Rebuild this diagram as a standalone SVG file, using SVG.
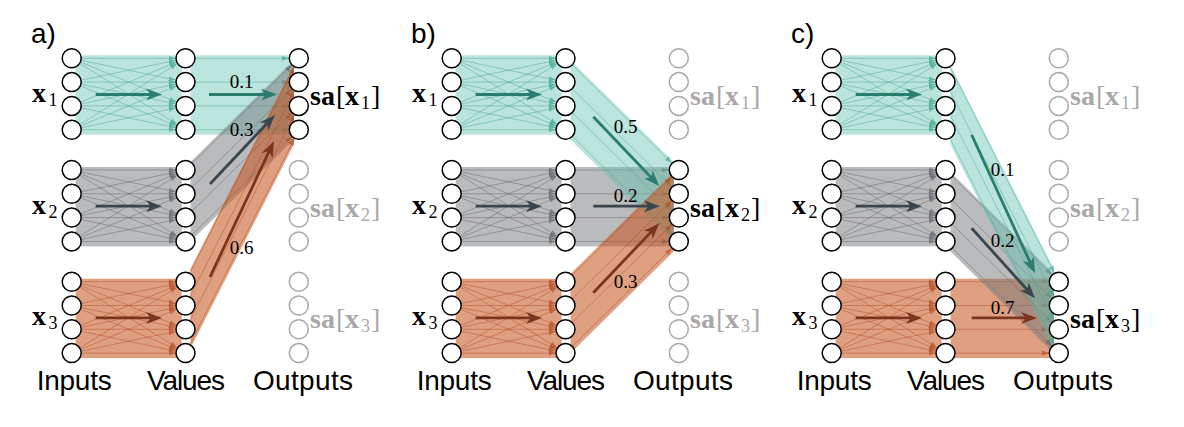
<svg xmlns="http://www.w3.org/2000/svg" width="1184" height="427" viewBox="0 0 1184 427">
<style>
.bt{fill:#62c1ae;fill-opacity:.43}
.bg{fill:#75777c;fill-opacity:.5}
.bo{fill:#c4521c;fill-opacity:.55}
.lt{stroke:#3fa58f;stroke-opacity:.5;stroke-width:.9;fill:none;marker-end:url(#mt)}
.lg{stroke:#5d6268;stroke-opacity:.5;stroke-width:.9;fill:none;marker-end:url(#mg)}
.lo{stroke:#b24a22;stroke-opacity:.5;stroke-width:.9;fill:none;marker-end:url(#mo)}
.at{stroke:#2a7d6f;stroke-width:2.8;fill:none;marker-end:url(#At)}
.ag{stroke:#3a464e;stroke-width:2.8;fill:none;marker-end:url(#Ag)}
.ao{stroke:#7a3420;stroke-width:2.8;fill:none;marker-end:url(#Ao)}
.node{fill:#fff;stroke:#000;stroke-width:1.5}
.off{fill:#fff;stroke:#a8a8a8;stroke-width:1.5}
.pl{font-family:"Liberation Sans",Arial,sans-serif;font-size:28px;fill:#000}
.ax{font-family:"Liberation Sans",Arial,sans-serif;font-size:28px;text-anchor:middle;fill:#000}
.w{font-family:"Liberation Serif","Times New Roman",serif;font-size:19px;text-anchor:middle;fill:#000}
.m{font-family:"Liberation Serif","Times New Roman",serif;font-size:28px;fill:#000}
.m.g{fill:#a8a8a8}
.b{font-weight:bold}
.sub{font-size:18px}
</style>
<defs>
<marker id="mt" markerUnits="userSpaceOnUse" markerWidth="8" markerHeight="7" refX="7" refY="3.5" orient="auto" viewBox="0 0 8 7"><path d="M0,0.8 L7,3.5 L0,6.2 Z" fill="#3fa58f" fill-opacity=".6"/></marker>
<marker id="mg" markerUnits="userSpaceOnUse" markerWidth="8" markerHeight="7" refX="7" refY="3.5" orient="auto" viewBox="0 0 8 7"><path d="M0,0.8 L7,3.5 L0,6.2 Z" fill="#5d6268" fill-opacity=".6"/></marker>
<marker id="mo" markerUnits="userSpaceOnUse" markerWidth="8" markerHeight="7" refX="7" refY="3.5" orient="auto" viewBox="0 0 8 7"><path d="M0,0.8 L7,3.5 L0,6.2 Z" fill="#b24a22" fill-opacity=".6"/></marker>
<marker id="At" markerUnits="userSpaceOnUse" markerWidth="17" markerHeight="13" refX="8" refY="6.5" orient="auto" viewBox="0 0 17 13"><path d="M0,0.5 L16,6.5 L0,12.5 L4.5,6.5 Z" fill="#2a7d6f"/></marker>
<marker id="Ag" markerUnits="userSpaceOnUse" markerWidth="17" markerHeight="13" refX="8" refY="6.5" orient="auto" viewBox="0 0 17 13"><path d="M0,0.5 L16,6.5 L0,12.5 L4.5,6.5 Z" fill="#3a464e"/></marker>
<marker id="Ao" markerUnits="userSpaceOnUse" markerWidth="17" markerHeight="13" refX="8" refY="6.5" orient="auto" viewBox="0 0 17 13"><path d="M0,0.5 L16,6.5 L0,12.5 L4.5,6.5 Z" fill="#7a3420"/></marker>
<g id="mesh">
<line x1="9.5" y1="0" x2="103.8" y2="0"/>
<line x1="9.3" y1="1.94" x2="104.01" y2="21.75"/>
<line x1="8.76" y1="3.67" x2="104.57" y2="43.74"/>
<line x1="8.05" y1="5.05" x2="105.33" y2="66.08"/>
<line x1="9.3" y1="21.86" x2="104.01" y2="2.05"/>
<line x1="9.5" y1="23.8" x2="103.8" y2="23.8"/>
<line x1="9.3" y1="25.74" x2="104.01" y2="45.55"/>
<line x1="8.76" y1="27.47" x2="104.57" y2="67.54"/>
<line x1="8.76" y1="43.93" x2="104.57" y2="3.86"/>
<line x1="9.3" y1="45.66" x2="104.01" y2="25.85"/>
<line x1="9.5" y1="47.6" x2="103.8" y2="47.6"/>
<line x1="9.3" y1="49.54" x2="104.01" y2="69.35"/>
<line x1="8.05" y1="66.35" x2="105.33" y2="5.32"/>
<line x1="8.76" y1="67.73" x2="104.57" y2="27.66"/>
<line x1="9.3" y1="69.46" x2="104.01" y2="49.65"/>
<line x1="9.5" y1="71.4" x2="103.8" y2="71.4"/>
</g>
<g id="col"><circle cx="0" cy="0" r="9.5"/><circle cx="0" cy="23.8" r="9.5"/><circle cx="0" cy="47.6" r="9.5"/><circle cx="0" cy="71.4" r="9.5"/></g>
<g id="inbands">
<rect class="bt" x="75.7" y="55.3" width="106" height="79.4"/>
<use href="#mesh" class="lt" x="71.7" y="58.3"/>
<rect class="bg" x="75.7" y="167" width="106" height="79.4"/>
<use href="#mesh" class="lg" x="71.7" y="170"/>
<rect class="bo" x="75.7" y="278.7" width="106" height="79.4"/>
<use href="#mesh" class="lo" x="71.7" y="281.7"/>
</g>
<g id="inarrows">
<line class="at" x1="95.7" y1="94.5" x2="154" y2="94.5"/>
<line class="ag" x1="95.7" y1="206.2" x2="154" y2="206.2"/>
<line class="ao" x1="95.7" y1="317.9" x2="154" y2="317.9"/>
</g>
<g id="inlabels">
<text class="m"><tspan class="b" x="32" y="102">x</tspan><tspan class="sub" x="48.5" y="106">1</tspan></text>
<text class="m"><tspan class="b" x="32" y="213.7">x</tspan><tspan class="sub" x="48.5" y="217.7">2</tspan></text>
<text class="m"><tspan class="b" x="32" y="325.4">x</tspan><tspan class="sub" x="48.5" y="329.4">3</tspan></text>
</g>
<g id="axlabels">
<text class="ax" x="74.2" y="390" textLength="75">Inputs</text>
<text class="ax" x="186" y="390" textLength="78">Values</text>
<text class="ax" x="303" y="390" textLength="100">Outputs</text>
</g>
</defs>

<!-- Panel a -->
<g id="panel-a">
<g id="a-connectors">
<use href="#inbands"/>
<rect class="bt" x="190.5" y="55.3" width="103.3" height="79.4"/>
<g class="lt"><line x1="195" y1="58.3" x2="288.8" y2="58.3"/><line x1="195" y1="82.1" x2="288.8" y2="82.1"/><line x1="195" y1="105.9" x2="288.8" y2="105.9"/><line x1="195" y1="129.7" x2="288.8" y2="129.7"/></g>
<polygon class="bg" points="190.5,162.07 293.8,60.23 293.8,139.63 190.5,241.47"/>
<g class="lg"><line x1="192.27" y1="163.33" x2="291.68" y2="65.32"/><line x1="192.27" y1="187.13" x2="291.68" y2="89.12"/><line x1="192.27" y1="210.93" x2="291.68" y2="112.92"/><line x1="192.27" y1="234.73" x2="291.68" y2="136.72"/></g>
<polygon class="bo" points="190.5,268.85 293.8,65.15 293.8,144.55 190.5,348.25"/>
<g class="lo"><line x1="189.8" y1="273.23" x2="294.28" y2="67.22"/><line x1="189.8" y1="297.03" x2="294.28" y2="91.02"/><line x1="189.8" y1="320.83" x2="294.28" y2="114.82"/><line x1="189.8" y1="344.63" x2="294.28" y2="138.62"/></g>
<use href="#inarrows"/>
<line class="at" x1="209" y1="94.5" x2="269" y2="94.5"/>
<line class="ag" x1="210" y1="184" x2="269.5" y2="120.8"/>
<line class="ao" x1="210" y1="277" x2="270.6" y2="148.2"/>
</g>
<g id="a-nodes">
<g id="a-in-x1" class="node"><use href="#col" x="71.7" y="58.3"/></g>
<g id="a-in-x2" class="node"><use href="#col" x="71.7" y="170"/></g>
<g id="a-in-x3" class="node"><use href="#col" x="71.7" y="281.7"/></g>
<g id="a-val-1" class="node"><use href="#col" x="185.5" y="58.3"/></g>
<g id="a-val-2" class="node"><use href="#col" x="185.5" y="170"/></g>
<g id="a-val-3" class="node"><use href="#col" x="185.5" y="281.7"/></g>
<g id="a-out-1" class="node"><use href="#col" x="298.8" y="58.3"/></g>
<g id="a-out-2" class="off"><use href="#col" x="298.8" y="170"/></g>
<g id="a-out-3" class="off"><use href="#col" x="298.8" y="281.7"/></g>
</g>
<g id="a-labels">
<text class="pl" x="31" y="43">a)</text>
<text class="w" x="241.7" y="88">0.1</text>
<text class="w" x="241.7" y="136">0.3</text>
<text class="w" x="241.7" y="254">0.6</text>
<use href="#inlabels"/>
<text class="m"><tspan class="b" x="310" y="105">sa</tspan><tspan x="336">[</tspan><tspan class="b" x="345">x</tspan><tspan class="sub" x="361" y="109">1</tspan><tspan x="371" y="105">]</tspan></text>
<text class="m g"><tspan class="b" x="310" y="216.7">sa</tspan><tspan x="336">[</tspan><tspan class="b" x="345">x</tspan><tspan class="sub" x="361" y="220.7">2</tspan><tspan x="371" y="216.7">]</tspan></text>
<text class="m g"><tspan class="b" x="310" y="328.4">sa</tspan><tspan x="336">[</tspan><tspan class="b" x="345">x</tspan><tspan class="sub" x="361" y="332.4">3</tspan><tspan x="371" y="328.4">]</tspan></text>
<use href="#axlabels"/>
</g>
</g>

<!-- Panel b -->
<g id="panel-b" transform="translate(380,0)">
<g id="b-connectors">
<use href="#inbands"/>
<rect class="bg" x="190.5" y="167" width="103.3" height="79.4"/>
<g class="lg"><line x1="195" y1="170" x2="288.8" y2="170"/><line x1="195" y1="193.8" x2="288.8" y2="193.8"/><line x1="195" y1="217.6" x2="288.8" y2="217.6"/><line x1="195" y1="241.4" x2="288.8" y2="241.4"/></g>
<polygon class="bt" points="190.5,60.23 293.8,162.07 293.8,241.47 190.5,139.63"/>
<g class="lt"><line x1="192.27" y1="64.97" x2="291.68" y2="162.98"/><line x1="192.27" y1="88.77" x2="291.68" y2="186.78"/><line x1="192.27" y1="112.57" x2="291.68" y2="210.58"/><line x1="192.27" y1="136.37" x2="291.68" y2="234.38"/></g>
<polygon class="bo" points="190.5,273.77 293.8,171.93 293.8,251.33 190.5,353.17"/>
<g class="lo"><line x1="192.27" y1="275.03" x2="291.68" y2="177.02"/><line x1="192.27" y1="298.83" x2="291.68" y2="200.82"/><line x1="192.27" y1="322.63" x2="291.68" y2="224.62"/><line x1="192.27" y1="346.43" x2="291.68" y2="248.42"/></g>
<use href="#inarrows"/>
<line class="at" x1="213.3" y1="116.7" x2="273.8" y2="180.2"/>
<line class="ag" x1="213.3" y1="206.2" x2="272" y2="206.2"/>
<line class="ao" x1="213.3" y1="292.7" x2="273.8" y2="229.1"/>
</g>
<g id="b-nodes">
<g id="b-in-x1" class="node"><use href="#col" x="71.7" y="58.3"/></g>
<g id="b-in-x2" class="node"><use href="#col" x="71.7" y="170"/></g>
<g id="b-in-x3" class="node"><use href="#col" x="71.7" y="281.7"/></g>
<g id="b-val-1" class="node"><use href="#col" x="185.5" y="58.3"/></g>
<g id="b-val-2" class="node"><use href="#col" x="185.5" y="170"/></g>
<g id="b-val-3" class="node"><use href="#col" x="185.5" y="281.7"/></g>
<g id="b-out-1" class="off"><use href="#col" x="298.8" y="58.3"/></g>
<g id="b-out-2" class="node"><use href="#col" x="298.8" y="170"/></g>
<g id="b-out-3" class="off"><use href="#col" x="298.8" y="281.7"/></g>
</g>
<g id="b-labels">
<text class="pl" x="31" y="43">b)</text>
<text class="w" x="245.7" y="132.7">0.5</text>
<text class="w" x="245.7" y="201.7">0.2</text>
<text class="w" x="245.7" y="288">0.3</text>
<use href="#inlabels"/>
<text class="m g"><tspan class="b" x="310" y="105">sa</tspan><tspan x="336">[</tspan><tspan class="b" x="345">x</tspan><tspan class="sub" x="361" y="109">1</tspan><tspan x="371" y="105">]</tspan></text>
<text class="m"><tspan class="b" x="310" y="216.7">sa</tspan><tspan x="336">[</tspan><tspan class="b" x="345">x</tspan><tspan class="sub" x="361" y="220.7">2</tspan><tspan x="371" y="216.7">]</tspan></text>
<text class="m g"><tspan class="b" x="310" y="328.4">sa</tspan><tspan x="336">[</tspan><tspan class="b" x="345">x</tspan><tspan class="sub" x="361" y="332.4">3</tspan><tspan x="371" y="328.4">]</tspan></text>
<use href="#axlabels"/>
</g>
</g>

<!-- Panel c -->
<g id="panel-c" transform="translate(760,0)">
<g id="c-connectors">
<use href="#inbands"/>
<rect class="bo" x="190.5" y="278.7" width="103.3" height="79.4"/>
<g class="lo"><line x1="195" y1="281.7" x2="288.8" y2="281.7"/><line x1="195" y1="305.5" x2="288.8" y2="305.5"/><line x1="195" y1="329.3" x2="288.8" y2="329.3"/><line x1="195" y1="353.1" x2="288.8" y2="353.1"/></g>
<polygon class="bg" points="190.5,171.93 293.8,273.77 293.8,353.17 190.5,251.33"/>
<g class="lg"><line x1="192.27" y1="176.67" x2="291.68" y2="274.68"/><line x1="192.27" y1="200.47" x2="291.68" y2="298.48"/><line x1="192.27" y1="224.27" x2="291.68" y2="322.28"/><line x1="192.27" y1="248.07" x2="291.68" y2="346.08"/></g>
<polygon class="bt" points="190.5,65.15 293.8,268.85 293.8,348.25 190.5,144.55"/>
<g class="lt"><line x1="189.8" y1="66.77" x2="294.28" y2="272.78"/><line x1="189.8" y1="90.57" x2="294.28" y2="296.58"/><line x1="189.8" y1="114.37" x2="294.28" y2="320.38"/><line x1="189.8" y1="138.17" x2="294.28" y2="344.18"/></g>
<use href="#inarrows"/>
<line class="at" x1="211.7" y1="135" x2="271.7" y2="266"/>
<line class="ag" x1="211.7" y1="228.3" x2="269.6" y2="292.4"/>
<line class="ao" x1="211.7" y1="317.9" x2="269" y2="317.9"/>
</g>
<g id="c-nodes">
<g id="c-in-x1" class="node"><use href="#col" x="71.7" y="58.3"/></g>
<g id="c-in-x2" class="node"><use href="#col" x="71.7" y="170"/></g>
<g id="c-in-x3" class="node"><use href="#col" x="71.7" y="281.7"/></g>
<g id="c-val-1" class="node"><use href="#col" x="185.5" y="58.3"/></g>
<g id="c-val-2" class="node"><use href="#col" x="185.5" y="170"/></g>
<g id="c-val-3" class="node"><use href="#col" x="185.5" y="281.7"/></g>
<g id="c-out-1" class="off"><use href="#col" x="298.8" y="58.3"/></g>
<g id="c-out-2" class="off"><use href="#col" x="298.8" y="170"/></g>
<g id="c-out-3" class="node"><use href="#col" x="298.8" y="281.7"/></g>
</g>
<g id="c-labels">
<text class="pl" x="31" y="43">c)</text>
<text class="w" x="242.7" y="176">0.1</text>
<text class="w" x="242.7" y="247.3">0.2</text>
<text class="w" x="242.7" y="314">0.7</text>
<use href="#inlabels"/>
<text class="m g"><tspan class="b" x="310" y="105">sa</tspan><tspan x="336">[</tspan><tspan class="b" x="345">x</tspan><tspan class="sub" x="361" y="109">1</tspan><tspan x="371" y="105">]</tspan></text>
<text class="m g"><tspan class="b" x="310" y="216.7">sa</tspan><tspan x="336">[</tspan><tspan class="b" x="345">x</tspan><tspan class="sub" x="361" y="220.7">2</tspan><tspan x="371" y="216.7">]</tspan></text>
<text class="m"><tspan class="b" x="310" y="328.4">sa</tspan><tspan x="336">[</tspan><tspan class="b" x="345">x</tspan><tspan class="sub" x="361" y="332.4">3</tspan><tspan x="371" y="328.4">]</tspan></text>
<use href="#axlabels"/>
</g>
</g>
</svg>
